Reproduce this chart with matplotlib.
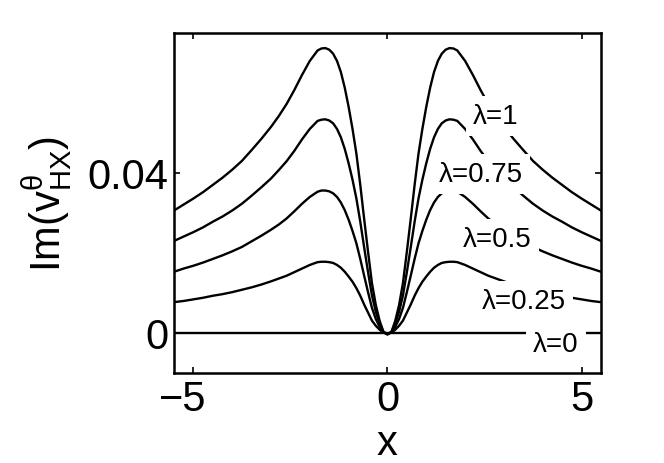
import numpy as np
import matplotlib
matplotlib.use("Agg")
import matplotlib.pyplot as plt
from matplotlib.transforms import ScaledTranslation

plt.rcParams["font.family"] = ["Liberation Sans", "DejaVu Sans"]
plt.rcParams["mathtext.fontset"] = "custom"
plt.rcParams["mathtext.rm"] = "Liberation Sans"
plt.rcParams["mathtext.it"] = "Liberation Sans"
plt.rcParams["mathtext.bf"] = "Liberation Sans:bold"

# half profile (x >= 0); curves are symmetric about x = 0
x_half = [0, 0.1, 0.2, 0.3, 0.4, 0.5, 0.6, 0.7, 0.8, 0.9, 1.0, 1.1, 1.2, 1.3, 1.4,
          1.5, 1.6, 1.7, 1.8, 2.0, 2.2, 2.4, 2.6, 2.8, 3.0, 3.25, 3.5, 3.75, 4.0,
          4.25, 4.5, 4.75, 5.0, 5.25, 5.5]

lam1 = [-0.0004, 0.0002, 0.0030, 0.0070, 0.0125, 0.0203, 0.0285, 0.0370, 0.0448,
        0.0510, 0.0565, 0.0613, 0.0652, 0.0680, 0.0698, 0.0708, 0.0712, 0.0711,
        0.0706, 0.0680, 0.0645, 0.0607, 0.0572, 0.0542, 0.0515, 0.0485, 0.0457,
        0.0430, 0.0408, 0.0388, 0.0370, 0.0352, 0.0336, 0.0321, 0.0306]
lam075 = [-0.0003, 0.0002, 0.0023, 0.0053, 0.0094, 0.0152, 0.0214, 0.0278, 0.0336,
          0.0383, 0.0424, 0.0460, 0.0489, 0.0510, 0.0524, 0.0531, 0.0534, 0.0533,
          0.0530, 0.0510, 0.0484, 0.0455, 0.0429, 0.0407, 0.0386, 0.0364, 0.0343,
          0.0323, 0.0306, 0.0291, 0.0278, 0.0264, 0.0252, 0.0241, 0.0230]
lam05 = [-0.0002, 0.0001, 0.0015, 0.0035, 0.0063, 0.0102, 0.0143, 0.0185, 0.0224,
         0.0255, 0.0283, 0.0307, 0.0326, 0.0340, 0.0349, 0.0354, 0.0356, 0.0356,
         0.0353, 0.0340, 0.0323, 0.0304, 0.0286, 0.0271, 0.0258, 0.0243, 0.0229,
         0.0215, 0.0204, 0.0194, 0.0185, 0.0176, 0.0168, 0.0161, 0.0153]
lam025 = [-0.0001, 0.0001, 0.0008, 0.0018, 0.0031, 0.0051, 0.0071, 0.0093, 0.0112,
          0.0128, 0.0141, 0.0153, 0.0163, 0.0170, 0.0175, 0.0177, 0.0178, 0.0178,
          0.0177, 0.0170, 0.0161, 0.0152, 0.0143, 0.0136, 0.0129, 0.0121, 0.0114,
          0.0108, 0.0102, 0.0097, 0.0093, 0.0088, 0.0084, 0.0080, 0.0077]
lam0 = [0.0] * len(x_half)

series = [lam0, lam025, lam05, lam075, lam1]
labels = ["λ=0", "λ=0.25", "λ=0.5", "λ=0.75", "λ=1"]
label_pos = [(4.34, -0.0027), (3.52, 0.0081), (2.84, 0.0235), (2.40, 0.0398), (2.78, 0.0542)]


def mirror(xh, yh):
    xh = np.asarray(xh, float)
    yh = np.asarray(yh, float)
    return np.concatenate([-xh[::-1], xh[1:]]), np.concatenate([yh[::-1], yh[1:]])


fig = plt.figure(figsize=(6.64, 4.64), dpi=100)
ax = fig.add_axes([0.262, 0.194, 0.643, 0.733])

for ys in series:
    xf, yf = mirror(x_half, ys)
    ax.plot(xf, yf, color="black", linewidth=1.7, zorder=2)

for lab, (tx, ty) in zip(labels, label_pos):
    ax.text(tx, ty, lab, fontsize=20, ha="center", va="center", zorder=3,
            bbox=dict(boxstyle="square,pad=0.25", facecolor="white", edgecolor="none"))

ax.set_xlim(-5.5, 5.5)
ax.set_ylim(-0.01, 0.075)
ax.set_xticks([-5, 0, 5])
ax.set_xticklabels(["\u22125", "0", "5"])
ax.set_yticks([0, 0.04])
ax.set_yticklabels(["0", "0.04"])
ax.tick_params(direction="in", length=4, width=1.2, labelsize=30, pad=4,
               top=True, right=True)
for sp in ax.spines.values():
    sp.set_linewidth(1.8)

# keep the digit of "-5" centred on its tick, minus sign hanging left
lbl = ax.get_xticklabels()[0]
lbl.set_transform(lbl.get_transform() + ScaledTranslation(-0.11, 0, fig.dpi_scale_trans))

ax.set_xlabel("x", fontsize=30, labelpad=3)
ax.set_ylabel(r"$\mathrm{Im(v^{\theta}_{HX})}$", fontsize=30, labelpad=10)

fig.savefig("out.png", dpi=100)
